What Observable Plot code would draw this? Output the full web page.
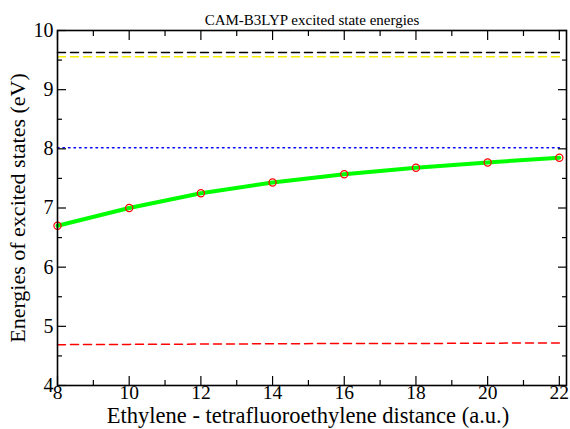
<!DOCTYPE html>
<html>
<head>
<meta charset="utf-8">
<script src="https://cdn.jsdelivr.net/npm/d3@7"></script>
<script src="https://cdn.jsdelivr.net/npm/@observablehq/plot@0.6"></script>
<style>
  body { margin: 0; background: #fff; }
  #chart svg { display: block; }
  #chart svg text { font-family: 'Liberation Serif', 'Times New Roman', serif !important; font-variant: normal !important; }
</style>
</head>
<body>
<div id="chart"></div>
<script>
const titleText = "CAM-B3LYP excited state energies";
const xLabel = "Ethylene - tetrafluoroethylene distance (a.u.)";
const yLabel = "Energies of excited states (eV)";

const distance = [8, 10, 12, 14, 16, 18, 20, 22];
const ctState = [6.70, 7.00, 7.25, 7.43, 7.57, 7.68, 7.77, 7.85];
const blackDashed = [9.63, 9.63, 9.63, 9.63, 9.63, 9.63, 9.63, 9.63];
const yellowDashed = [9.555, 9.555, 9.555, 9.555, 9.555, 9.555, 9.555, 9.555];
const blueDotted = [8.02, 8.02, 8.02, 8.02, 8.02, 8.02, 8.02, 8.02];
const redDashed = [4.69, 4.695, 4.70, 4.705, 4.71, 4.71, 4.715, 4.72];

const xMajor = [8, 10, 12, 14, 16, 18, 20, 22];
const xMinor = [9, 11, 13, 15, 17, 19, 21];
const yMajor = [4, 5, 6, 7, 8, 9, 10];
const yMinor = [4.5, 5.5, 6.5, 7.5, 8.5, 9.5];

const rows = (ys) => distance.map((x, i) => ({x, y: ys[i]}));
const font = "'Liberation Serif', 'Times New Roman', serif";
const fmt = (d) => String(d);

const chart = Plot.plot({
  width: 570,
  height: 429,
  marginLeft: 57,
  marginRight: 4,
  marginTop: 30,
  marginBottom: 44,
  style: {fontFamily: font, background: "#fff", color: "#000"},
  x: {domain: [8, 22.2], axis: null},
  y: {domain: [4, 10], axis: null},
  marks: [
    Plot.lineY(rows(blackDashed), {x: "x", y: "y", stroke: "#000", strokeWidth: 1.5, strokeDasharray: "8,5"}),
    Plot.lineY(rows(yellowDashed), {x: "x", y: "y", stroke: "#f5f000", strokeWidth: 1.5, strokeDasharray: "8,5"}),
    Plot.lineY(rows(blueDotted), {x: "x", y: "y", stroke: "#0000ff", strokeWidth: 1.5, strokeDasharray: "1.5,4"}),
    Plot.lineY(rows(redDashed), {x: "x", y: "y", stroke: "#ff0000", strokeWidth: 1.5, strokeDasharray: "8,5"}),
    Plot.lineY(rows(ctState), {x: "x", y: "y", stroke: "#00ff00", strokeWidth: 4}),
    Plot.dot(rows(ctState), {x: "x", y: "y", r: 3.6, stroke: "#ff0000", strokeWidth: 1.2, fill: "none"}),
    // ticks (inward) bottom/top
    Plot.axisX({anchor: "bottom", ticks: xMajor, tickSize: -9, text: null, label: null, strokeWidth: 1.2}),
    Plot.axisX({anchor: "bottom", ticks: xMinor, tickSize: -5, text: null, label: null, strokeWidth: 1.2}),
    Plot.axisX({anchor: "top", ticks: xMajor, tickSize: -9, text: null, label: null, strokeWidth: 1.2}),
    Plot.axisX({anchor: "top", ticks: xMinor, tickSize: -5, text: null, label: null, strokeWidth: 1.2}),
    Plot.axisY({anchor: "left", ticks: yMajor, tickSize: -9, text: null, label: null, strokeWidth: 1.2}),
    Plot.axisY({anchor: "left", ticks: yMinor, tickSize: -5, text: null, label: null, strokeWidth: 1.2}),
    Plot.axisY({anchor: "right", ticks: yMajor, tickSize: -9, text: null, label: null, strokeWidth: 1.2}),
    Plot.axisY({anchor: "right", ticks: yMinor, tickSize: -5, text: null, label: null, strokeWidth: 1.2}),
    // tick labels
    Plot.text(xMajor, {x: (d) => d, text: fmt, frameAnchor: "bottom", dy: 0, lineAnchor: "top", fontSize: 19.5, fontFamily: font, fill: "#000"}),
    Plot.text(yMajor, {y: (d) => d, text: fmt, frameAnchor: "left", dx: -4, textAnchor: "end", lineAnchor: "middle", fontSize: 20, fontFamily: font, fill: "#000"}),
    Plot.frame({stroke: "#000", strokeWidth: 1.6}),
    // texts
    Plot.text([titleText], {frameAnchor: "top", dy: -16, fontSize: 15, fontFamily: font, fill: "#000"}),
    Plot.text([xLabel], {frameAnchor: "bottom", dx: -4, dy: 30.5, fontSize: 22.5, fontFamily: font, fill: "#000", lineAnchor: "middle"}),
    Plot.text([yLabel], {frameAnchor: "left", dx: -40, rotate: -90, textAnchor: "middle", fontSize: 22, fontFamily: font, fill: "#000", lineAnchor: "middle"})
  ]
});
document.getElementById("chart").appendChild(chart);
</script>
</body>
</html>
